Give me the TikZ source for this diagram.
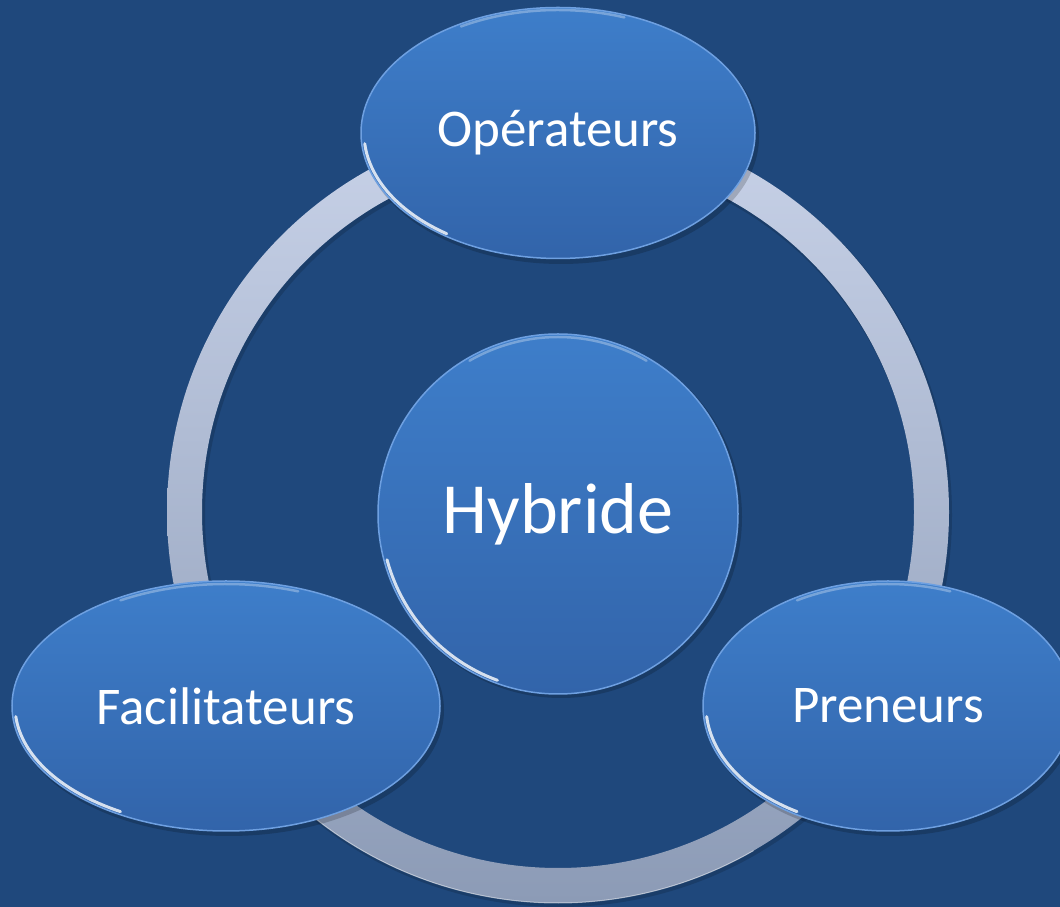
\documentclass[tikz,border=0pt]{standalone}
\usepackage{fontspec}
\setmainfont{Carlito}
\usetikzlibrary{shapes.geometric,calc}
\definecolor{bg}{RGB}{31,72,124}
\definecolor{balltop}{RGB}{62,126,202}
\definecolor{ballbot}{RGB}{50,100,170}
\definecolor{ringtop}{RGB}{200,210,232}
\definecolor{ringbot}{RGB}{140,155,182}
\definecolor{rim}{RGB}{110,160,225}
\tikzset{
  ball/.style={ellipse, inner sep=0pt, top color=balltop, bottom color=ballbot,
    draw=rim, line width=1.5pt, text=white},
  lbl/.style={font=\fontsize{53}{58}\selectfont},
  biglbl/.style={font=\fontsize{72}{78}\selectfont},
  glint/.style={white, line width=3pt, opacity=0.8, line cap=round},
  softglint/.style={white, line width=2.5pt, opacity=0.3, line cap=round},
  shadowball/.style={fill=black, opacity=0.18},
}
\begin{document}
\begin{tikzpicture}[x=1pt,y=1pt]
\fill[bg] (0,0) rectangle (1060,907);
\useasboundingbox (0,0) rectangle (1060,907);
% ring
\coordinate (rc) at (558,395);
\fill[black,opacity=0.15,even odd rule] ($(rc)+(2,-3)$) circle (392) ($(rc)+(2,-3)$) circle (355);
\shade[top color=ringtop, bottom color=ringbot, even odd rule] (rc) circle (391) (rc) circle (356);
\draw[white,opacity=0.5,line width=1pt] (rc) ++(200:391) arc[start angle=200,end angle=300,radius=391];
% shadows
\fill[shadowball] (561,390) circle (181);
\fill[shadowball] (561,770) ellipse (198 and 127);
\fill[shadowball] (229,197) ellipse (215 and 126);
\fill[shadowball] (891,197) ellipse (186 and 126);
% nodes
\node[ball, circle, minimum size=360pt, biglbl] (hyb) at (558,393) {Hybride};
\node[ball, minimum width=394pt, minimum height=251pt, lbl] (op) at (558,774) {Opérateurs};
\node[ball, minimum width=428pt, minimum height=250pt, lbl] (fac) at (226,201) {Facilitateurs};
\node[ball, minimum width=370pt, minimum height=250pt, lbl] (pre) at (888,201) {Preneurs};
% glints
\draw[glint] ($(hyb.center)+(195:177)$) arc[start angle=195,end angle=250,radius=177];
\draw[softglint] ($(hyb.center)+(60:177)$) arc[start angle=60,end angle=120,radius=177];
\draw[glint] ($(op.center)+(185:194 and 123)$) arc[start angle=185,end angle=235,x radius=194,y radius=123];
\draw[softglint] ($(op.center)+(70:194 and 123)$) arc[start angle=70,end angle=120,x radius=194,y radius=123];
\draw[glint] ($(fac.center)+(185:211 and 122)$) arc[start angle=185,end angle=240,x radius=211,y radius=122];
\draw[softglint] ($(fac.center)+(70:211 and 122)$) arc[start angle=70,end angle=120,x radius=211,y radius=122];
\draw[glint] ($(pre.center)+(185:182 and 122)$) arc[start angle=185,end angle=240,x radius=182,y radius=122];
\draw[softglint] ($(pre.center)+(70:182 and 122)$) arc[start angle=70,end angle=120,x radius=182,y radius=122];
\end{tikzpicture}
\end{document}
